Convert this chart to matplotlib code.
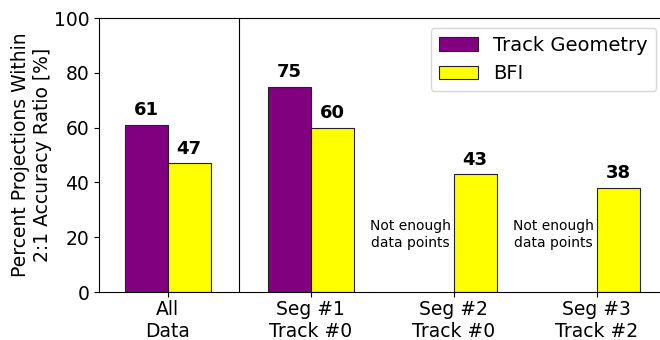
import numpy as np
import matplotlib.pyplot as plt

groups = ["All\nData", "Seg #1\nTrack #0", "Seg #2\nTrack #0", "Seg #3\nTrack #2"]
track_geometry = [61, 75, None, None]
bfi = [47, 60, 43, 38]

x = np.arange(len(groups))
width = 0.3

fig = plt.figure(figsize=(6.6, 3.4), dpi=100)
ax = fig.add_axes([0.15, 0.141, 0.858, 0.806])

tg_x = [xi for xi, v in zip(x, track_geometry) if v is not None]
tg_v = [v for v in track_geometry if v is not None]
ax.bar(np.array(tg_x) - width, tg_v, width, align='edge', color='purple',
       edgecolor='#222222', linewidth=0.8, label='Track Geometry')
ax.bar(x, bfi, width, align='edge', color='yellow',
       edgecolor='#222222', linewidth=0.8, label='BFI')

for xi, v in zip(tg_x, tg_v):
    ax.text(xi - width / 2, v + 2, str(v), ha='center', va='bottom',
            fontsize=13, fontweight='bold')
for xi, v in zip(x, bfi):
    ax.text(xi + width / 2, v + 2, str(v), ha='center', va='bottom',
            fontsize=13, fontweight='bold')

# groups without enough data for the geometry model
for xi, v in zip(x, track_geometry):
    if v is None:
        ax.text(xi - 0.3, 21, "Not enough\ndata points", ha='center',
                va='center', fontsize=10)

ax.axvline(0.5, color='black', linewidth=0.8)

ax.set_xlim(-0.48, 3.48)
ax.set_ylim(0, 100)
ax.set_xticks(x)
ax.set_xticklabels(groups, fontsize=13.5)
ax.tick_params(axis='x', pad=2.5)
ax.tick_params(axis='y', labelsize=13.5)
ax.set_ylabel("Percent Projections Within\n2:1 Accuracy Ratio [%]",
              fontsize=13.5, labelpad=1)
ax.legend(loc='upper right', fontsize=14)

plt.savefig("out.png", dpi=100)
